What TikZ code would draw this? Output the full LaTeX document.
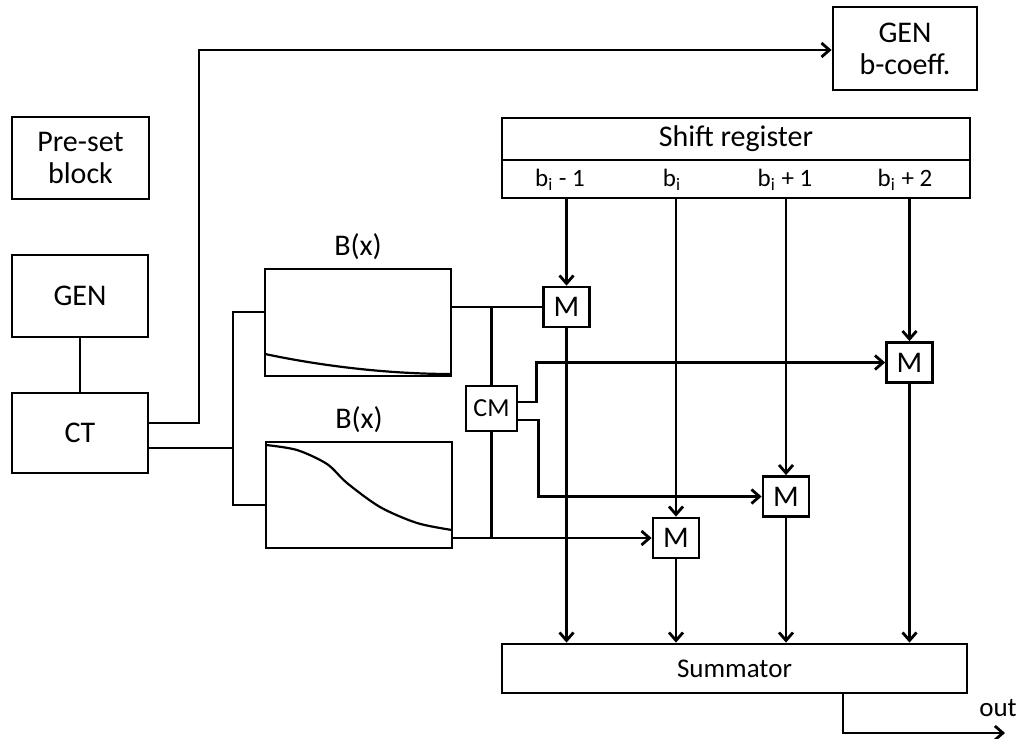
\documentclass[tikz,border=0pt]{standalone}
\usepackage{fontspec}
\setmainfont{Carlito}
\usetikzlibrary{positioning,arrows.meta}

\begin{document}
\begin{tikzpicture}[x=0.5pt, y=-0.5pt, line width=1.4pt,
  every node/.style={font=\fontsize{15}{16}\selectfont},
  blk/.style 2 args={draw, inner sep=0pt, align=center, minimum width=#1, minimum height=#2},
  mul/.style={blk={23pt}{20pt}},
  arr/.style={-{Straight Barb[length=4pt,width=7pt]}},
  small/.style={font=\fontsize{12.5}{14}\selectfont}]
  \useasboundingbox (0,0) rectangle (1021,738);
  % Left column
  \node[blk={68.5pt}{41pt}] (preset) at (80.5,158) {Pre-set\\block};
  \node[blk={68pt}{41pt}] (gen) at (80,296) {GEN};
  \node[blk={68pt}{40pt}] (ct) at (80,433) {CT};
  \node[blk={72pt}{41.5pt}] (genb) at (905,48.5) {GEN\\b-coeff.};
  % Shift register with taps
  \node[blk={234pt}{21pt}, outer sep=0pt] (sreg) at (736,139) {Shift register};
  \node[blk={234pt}{19pt}, outer sep=0pt, below=0pt of sreg] (taps) {};
  \foreach \n/\x/\t in {1/560/{b\textsubscript{i} - 1}, 2/672/{b\textsubscript{i}},
                        3/785/{b\textsubscript{i} + 1}, 4/905/{b\textsubscript{i} + 2}}
    \node[small] (tap\n) at (\x,180) {\t};
  % B(x) blocks
  \node[blk={93pt}{53.5pt}, label={[label distance=0pt]above:B(x)}] (bx1) at (358,322.5) {};
  \node[blk={93pt}{53pt}, label={[label distance=0pt]above:B(x)}] (bx2) at (359,495) {};
  \draw[line width=1.1pt] (265,354) .. controls (312,364) and (380,374) .. (451,374);
  \draw[line width=1.1pt] plot[smooth] coordinates {(266,445) (297,450) (327,464) (347,483)
                                                   (380,507) (417,523) (452,530)};
  % Multipliers
  \node[mul] (m1) at (566.5,307) {M};
  \node[mul] (m2) at (909.5,362.5) {M};
  \node[mul] (m3) at (786,496.5) {M};
  \node[mul] (m4) at (676,538) {M};
  \node[blk={25.5pt}{22.5pt}, font=\fontsize{13}{14}\selectfont] (cm) at (491.5,408.5) {CM};
  \node[blk={232.5pt}{24.5pt}, font=\fontsize{13.5}{15}\selectfont] (summ) at (734.5,668.5) {Summator};
  \node[font=\fontsize{13.5}{15}\selectfont] (outlbl) at (998,708) {out};
  % Connections
  \coordinate (upx) at (199,50);
  \coordinate (split) at (233,448);
  \coordinate (outx) at (843,0);
  \coordinate (outend) at (1005,733);
  \draw (gen.south) -- (ct.north);
  \draw[arr] ([yshift=5pt]ct.east) -| (upx) -- (upx -| genb.west);
  \draw ([yshift=-7.5pt]ct.east) -- (split);
  \draw ([yshift=5.25pt]bx1.west) -| (split) |- ([yshift=-5pt]bx2.west);
  \draw ([yshift=7.75pt]bx1.east) -- (m1.west);
  \draw (cm.north |- m1.west) -- (cm.north);
  \draw[arr] ([yshift=-21.5pt]bx2.east) -- (m4.west);
  \draw (cm.south) -- (cm.south |- m4.west);
  \draw[arr] ([yshift=3.25pt]cm.east) -- ++(18,0) |- (m2.west);
  \draw[arr] ([yshift=-5.75pt]cm.east) -- ++(20,0) |- (m3.west);
  \foreach \m in {m1,m2,m3,m4} {
    \draw[arr] (taps.south -| \m.north) -- (\m.north);
    \draw[arr] (\m.south) -- (\m.south |- summ.north);
  }
  \draw[arr] (summ.south -| outx) |- (outend);
\end{tikzpicture}
\end{document}
